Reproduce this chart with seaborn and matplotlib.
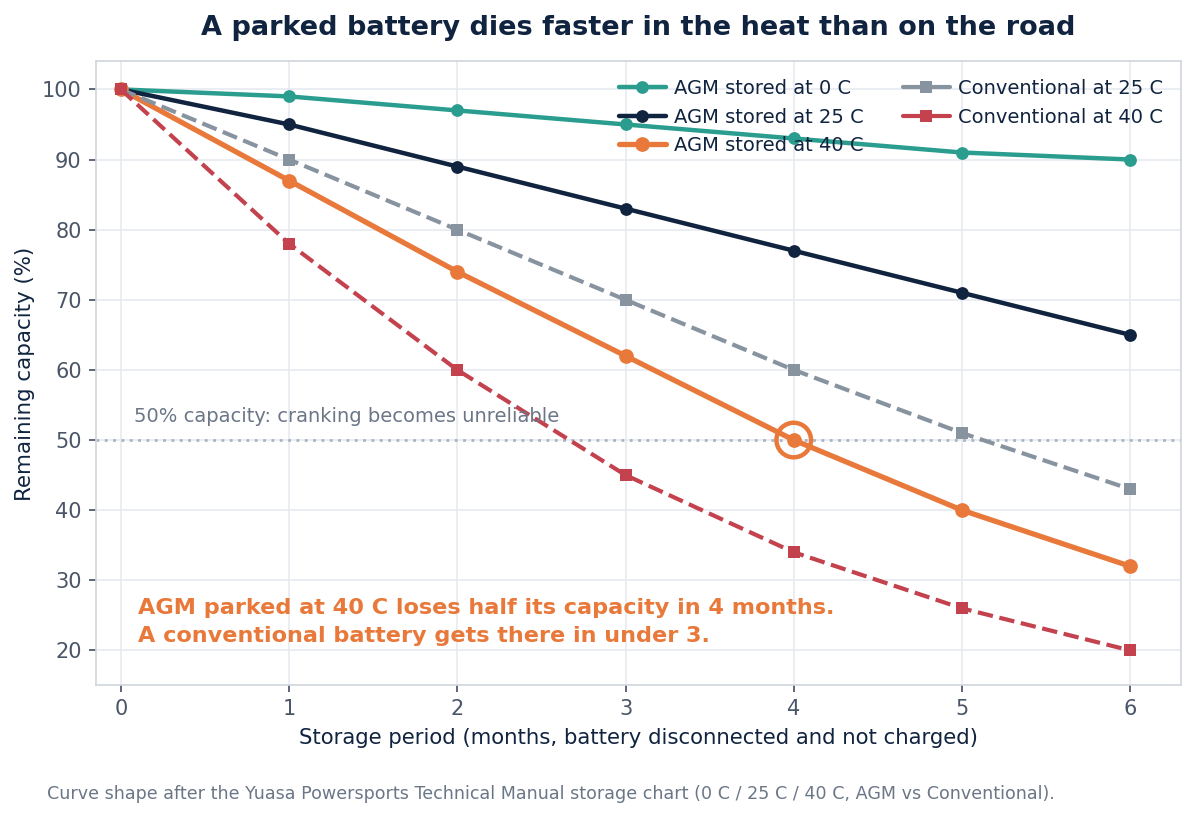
import numpy as np
import pandas as pd
import matplotlib
matplotlib.use("Agg")
import matplotlib.pyplot as plt
import seaborn as sns

# data
months = [0, 1, 2, 3, 4, 5, 6]
agm_0c = [100, 99, 97, 95, 93, 91, 90]
agm_25c = [100, 95, 89, 83, 77, 71, 65]
agm_40c = [100, 87, 74, 62, 50, 40, 32]
conv_25c = [100, 90, 80, 70, 60, 51, 43]
conv_40c = [100, 78, 60, 45, 34, 26, 20]

series = [
    ("AGM stored at 0 C", agm_0c, "#2a9d8f", "-", "o", 3.2, 9.2),
    ("AGM stored at 25 C", agm_25c, "#10233f", "-", "o", 3.2, 9.2),
    ("AGM stored at 40 C", agm_40c, "#e8793a", "-", "o", 3.8, 10.6),
    ("Conventional at 25 C", conv_25c, "#8893a0", "--", "s", 3.0, 8.4),
    ("Conventional at 40 C", conv_40c, "#c4424e", "--", "s", 3.0, 8.8),
]

rows = []
for name, vals, *_ in series:
    for m, v in zip(months, vals):
        rows.append({"month": m, "capacity": v, "series": name})
df = pd.DataFrame(rows)

sns.set_theme(style="whitegrid")
plt.rcParams["font.family"] = ["DejaVu Sans"]

fig, ax = plt.subplots(figsize=(11.95, 8.18), dpi=100)
fig.subplots_adjust(left=0.08, right=0.988, top=0.925, bottom=0.162)

for name, vals, color, ls, mk, lw, ms in series:
    sub = df[df["series"] == name]
    sns.lineplot(data=sub, x="month", y="capacity", ax=ax, color=color,
                 linestyle=ls, marker=mk, linewidth=lw, markersize=ms,
                 markeredgewidth=0, label=name, zorder=3)

# 50% threshold
ax.axhline(50, color="#a9b4c2", linestyle=(0, (1, 2)), linewidth=2, zorder=2)
ax.text(0.08, 52.0, "50% capacity: cranking becomes unreliable", color="#6b7687",
        fontsize=14, va="bottom", ha="left")

# highlight where AGM 40C hits 50%
ax.scatter([4], [50], s=620, facecolors="none", edgecolors="#e8793a",
           linewidths=3.2, zorder=4)

ax.text(0.1, 20.6, "AGM parked at 40 C loses half its capacity in 4 months.\n"
        "A conventional battery gets there in under 3.",
        color="#e8793a", fontsize=16.1, fontweight="bold", ha="left", va="bottom",
        linespacing=1.5)

ax.set_xlim(-0.15, 6.3)
ax.set_ylim(15, 104)
ax.set_xticks(months)
ax.set_yticks(np.arange(20, 101, 10))
ax.tick_params(axis="both", colors="#4a5568", labelsize=15, length=5,
               left=True, bottom=True, color="#4a5568", pad=5)
for s in ax.spines.values():
    s.set_color("#cfd6de")
    s.set_linewidth(1.2)
ax.grid(color="#e6eaef", linewidth=1.2)

ax.set_xlabel("Storage period (months, battery disconnected and not charged)",
              fontsize=15.3, color="#10233f", labelpad=6)
ax.set_ylabel("Remaining capacity (%)", fontsize=15.4, color="#10233f", labelpad=5)
ax.set_title("A parked battery dies faster in the heat than on the road",
             fontsize=19.5, fontweight="bold", color="#10233f", pad=19)

leg = ax.legend(loc="upper right", ncol=2, frameon=False, fontsize=14,
                handlelength=2.45, handletextpad=0.4, columnspacing=2.0,
                labelspacing=0.5, borderaxespad=0.5)
for t in leg.get_texts():
    t.set_color("#10233f")
for h in leg.legend_handles:
    h.set_linestyle("-")

fig.text(0.039, 0.018, "Curve shape after the Yuasa Powersports Technical Manual storage chart "
         "(0 C / 25 C / 40 C, AGM vs Conventional).", fontsize=12.6, color="#6b7687",
         ha="left", va="bottom")

plt.savefig("out.png", dpi=100)
